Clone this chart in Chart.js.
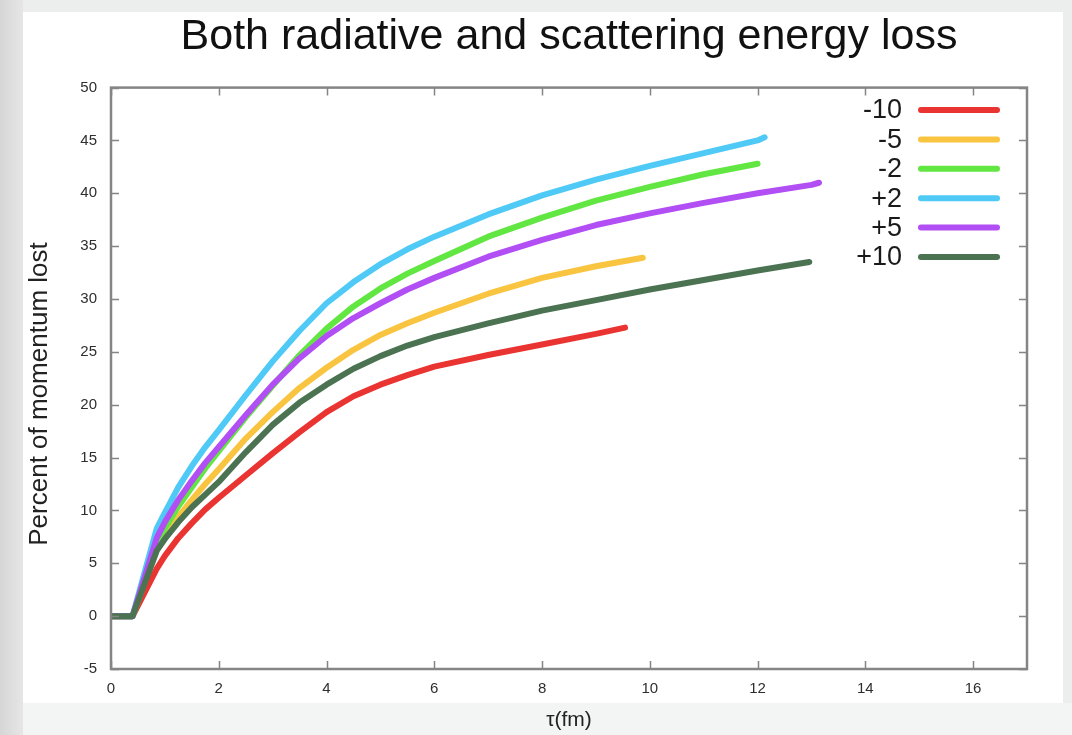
<!DOCTYPE html>
<html>
<head>
<meta charset="utf-8">
<title>Both radiative and scattering energy loss</title>
<script src="https://cdn.jsdelivr.net/npm/chart.js@4.4.1/dist/chart.umd.min.js"></script>
<style>
  html, body {
    margin: 0;
    padding: 0;
    width: 1072px;
    height: 735px;
    overflow: hidden;
    background: #eceeee;
  }
  #edge {
    position: absolute;
    left: 0;
    top: 0;
    width: 23px;
    height: 735px;
    background: linear-gradient(to right, #d6d6d6, #e6e6e6);
  }
  #card {
    position: absolute;
    left: 23px;
    top: 12px;
    width: 1040px;
    height: 691px;
    background: #ffffff;
  }
  #strip {
    position: absolute;
    left: 23px;
    top: 703px;
    width: 1049px;
    height: 32px;
    background: #f3f5f5;
  }
  #chartBox {
    position: absolute;
    left: 0;
    top: 0;
    width: 1072px;
    height: 735px;
  }
</style>
</head>
<body>
<div id="edge"></div>
<div id="card"></div>
<div id="strip"></div>
<div id="chartBox"><canvas id="lossChart" width="1072" height="735"></canvas></div>

<script>
// Series labels, in the order the legend lists them
const seriesLabels = ['-10', '-5', '-2', '+2', '+5', '+10'];
const seriesColors = ['#ea3432', '#f9c440', '#62e642', '#4fcaf6', '#b24ff4', '#4b7352'];

// tau (fm) sample positions shared by the early part of every curve
const tauEarly = [0, 0.4, 0.85, 1.0, 1.25, 1.5, 1.75, 2.0, 2.5, 3.0, 3.5, 4.0, 4.5, 5.0, 5.5, 6.0];

// percent of momentum lost, one list per series
const tauM10 = tauEarly.concat([7, 8, 9, 9.54]);
const pctM10 = [0, 0, 4.5, 5.7, 7.4, 8.8, 10.1, 11.2, 13.3, 15.4, 17.4, 19.3, 20.8, 21.9, 22.8, 23.6,
                24.7, 25.7, 26.7, 27.3];

const tauM5 = tauEarly.concat([7, 8, 9, 9.87]);
const pctM5 = [0, 0, 6.4, 7.6, 9.4, 11.0, 12.5, 13.9, 16.8, 19.3, 21.6, 23.5, 25.2, 26.6, 27.7, 28.7,
               30.5, 32.0, 33.1, 33.9];

const tauM2 = tauEarly.concat([7, 8, 9, 10, 11, 12]);
const pctM2 = [0, 0, 6.9, 8.3, 10.4, 12.2, 14.0, 15.6, 18.8, 21.8, 24.7, 27.2, 29.3, 31.0, 32.4, 33.6,
               35.9, 37.7, 39.3, 40.6, 41.8, 42.8];

const tauP2 = tauEarly.concat([7, 8, 9, 10, 11, 12, 12.13]);
const pctP2 = [0, 0, 8.3, 9.8, 12.2, 14.2, 16.0, 17.6, 20.9, 24.1, 27.0, 29.6, 31.6, 33.3, 34.7, 35.9,
               38.0, 39.8, 41.3, 42.6, 43.8, 45.0, 45.3];

const tauP5 = tauEarly.concat([7, 8, 9, 10, 11, 12, 13, 13.14]);
const pctP5 = [0, 0, 7.4, 8.9, 11.0, 12.8, 14.5, 16.0, 19.0, 21.9, 24.4, 26.5, 28.2, 29.6, 30.9, 32.0,
               34.0, 35.6, 37.0, 38.1, 39.1, 40.0, 40.8, 41.0];

const tauP10 = tauEarly.concat([7, 8, 9, 10, 11, 12, 12.96]);
const pctP10 = [0, 0, 6.2, 7.3, 8.9, 10.3, 11.5, 12.7, 15.5, 18.1, 20.2, 21.9, 23.4, 24.6, 25.6, 26.4,
                27.7, 28.9, 29.9, 30.9, 31.8, 32.7, 33.5];

const seriesTau = [tauM10, tauM5, tauM2, tauP2, tauP5, tauP10];
const seriesPct = [pctM10, pctM5, pctM2, pctP2, pctP5, pctP10];

// Axis ranges and tick steps
const xMin = 0, xMax = 17, xStep = 2;
const yMin = -5, yMax = 50, yStep = 5;

const FONT = "'Liberation Sans', 'Helvetica', 'Arial', sans-serif";
const FRAME_COLOR = '#858585';

function toPoints(xs, ys) {
    return xs.map((x, i) => ({ x: x, y: ys[i] }));
}

// Gnuplot-style frame: box around the plot with inward tick marks on all four sides
const frameTicks = {
    id: 'frameTicks',
    afterDatasetsDraw(chart) {
        const { ctx, chartArea: a, scales } = chart;
        const len = 8;
        ctx.save();
        ctx.strokeStyle = FRAME_COLOR;
        ctx.lineWidth = 1.5;
        ctx.beginPath();
        scales.x.ticks.forEach(t => {
            const px = Math.round(scales.x.getPixelForValue(t.value)) + 0.5;
            ctx.moveTo(px, a.bottom);
            ctx.lineTo(px, a.bottom - len);
            ctx.moveTo(px, a.top);
            ctx.lineTo(px, a.top + len);
        });
        scales.y.ticks.forEach(t => {
            const py = Math.round(scales.y.getPixelForValue(t.value)) + 0.5;
            ctx.moveTo(a.left, py);
            ctx.lineTo(a.left + len, py);
            ctx.moveTo(a.right, py);
            ctx.lineTo(a.right - len, py);
        });
        ctx.stroke();
        ctx.lineWidth = 2.5;
        ctx.strokeRect(a.left, a.top, a.right - a.left, a.bottom - a.top);
        ctx.restore();
    }
};

// Rotated y-axis caption, sitting a little below the middle of the plot
const yCaption = {
    id: 'yCaption',
    afterDraw(chart) {
        const { ctx } = chart;
        ctx.save();
        ctx.translate(40, 394);
        ctx.rotate(-Math.PI / 2);
        ctx.font = '26px ' + FONT;
        ctx.fillStyle = '#222222';
        ctx.textAlign = 'center';
        ctx.textBaseline = 'middle';
        ctx.fillText('Percent of momentum lost', 0, 0);
        ctx.restore();
    }
};

// Key in the upper right: label text right-aligned, then a short line sample
const keyBox = {
    id: 'keyBox',
    afterDraw(chart) {
        const { ctx } = chart;
        const textRight = 902;
        const lineStart = 921;
        const lineEnd = 997;
        const firstRow = 110;
        const rowGap = 29.4;
        ctx.save();
        ctx.font = '27px ' + FONT;
        ctx.textAlign = 'right';
        ctx.textBaseline = 'middle';
        chart.data.datasets.forEach((ds, i) => {
            const y = firstRow + i * rowGap;
            ctx.fillStyle = '#1a1a1a';
            ctx.fillText(ds.label, textRight, y + 1);
            ctx.strokeStyle = ds.borderColor;
            ctx.lineWidth = 6;
            ctx.lineCap = 'round';
            ctx.beginPath();
            ctx.moveTo(lineStart, y);
            ctx.lineTo(lineEnd, y);
            ctx.stroke();
        });
        ctx.restore();
    }
};

const datasets = seriesLabels.map((label, i) => ({
    label: label,
    data: toPoints(seriesTau[i], seriesPct[i]),
    borderColor: seriesColors[i],
    backgroundColor: seriesColors[i],
    borderWidth: 6,
    borderCapStyle: 'round',
    borderJoinStyle: 'round',
    pointRadius: 0,
    tension: 0,
    fill: false,
    order: seriesLabels.length - i
}));

const lossChart = new Chart(document.getElementById('lossChart').getContext('2d'), {
    type: 'line',
    data: { datasets: datasets },
    plugins: [frameTicks, yCaption, keyBox],
    options: {
        responsive: false,
        animation: false,
        layout: { padding: { left: 0, right: 45, top: 0, bottom: 0 } },
        plugins: {
            legend: { display: false },
            tooltip: { enabled: false },
            title: {
                display: true,
                fullSize: false,
                text: 'Both radiative and scattering energy loss',
                color: '#111111',
                font: { family: FONT, size: 43, weight: 'normal', lineHeight: 1.2 },
                padding: { top: 11, bottom: 25 }
            }
        },
        scales: {
            x: {
                type: 'linear',
                min: xMin,
                max: xMax,
                afterBuildTicks(scale) {
                    const ticks = [];
                    for (let v = xMin; v <= xMax; v += xStep) ticks.push({ value: v });
                    scale.ticks = ticks;
                },
                afterFit(scale) { scale.height = 66; },
                grid: { display: false, drawTicks: false },
                border: { display: false },
                ticks: {
                    color: '#2e2e2e',
                    padding: 11,
                    maxRotation: 0,
                    font: { family: FONT, size: 15 }
                },
                title: {
                    display: true,
                    text: 'τ(fm)',
                    color: '#222222',
                    font: { family: FONT, size: 21 },
                    padding: { top: 0, bottom: 2 }
                }
            },
            y: {
                type: 'linear',
                min: yMin,
                max: yMax,
                afterFit(scale) { scale.width = 111; },
                grid: { display: false, drawTicks: false },
                border: { display: false },
                ticks: {
                    stepSize: yStep,
                    color: '#2e2e2e',
                    padding: 14,
                    font: { family: FONT, size: 15 }
                }
            }
        }
    }
});
</script>
</body>
</html>
